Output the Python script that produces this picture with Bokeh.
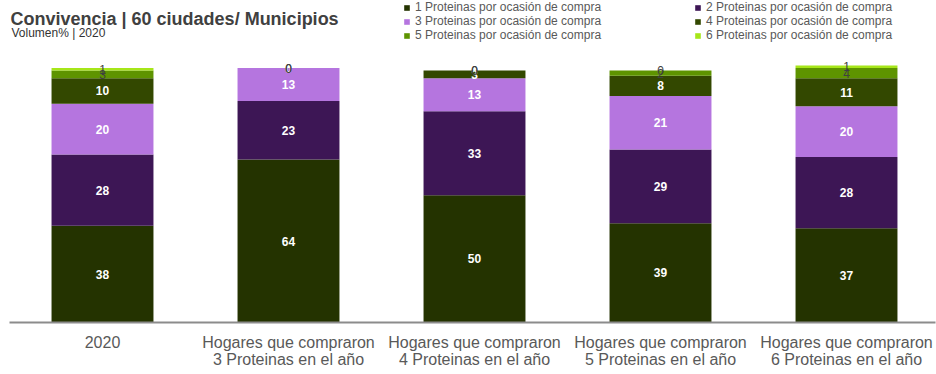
from bokeh.plotting import figure
from bokeh.models import (ColumnDataSource, Range1d, FixedTicker, Legend, LegendItem, Label)
from bokeh.core.properties import value
from bokeh.embed import file_html
from bokeh.resources import INLINE

# ---- data ----
categories = ["2020",
              "Hogares que compraron\n3 Proteinas en el año",
              "Hogares que compraron\n4 Proteinas en el año",
              "Hogares que compraron\n5 Proteinas en el año",
              "Hogares que compraron\n6 Proteinas en el año"]
series_names = ["1 Proteinas por ocasión de compra",
                "2 Proteinas por ocasión de compra",
                "3 Proteinas por ocasión de compra",
                "4 Proteinas por ocasión de compra",
                "5 Proteinas por ocasión de compra",
                "6 Proteinas por ocasión de compra"]
p1 = [38, 64, 50, 39, 37]
p2 = [28, 23, 33, 29, 28]
p3 = [20, 13, 13, 21, 20]
p4 = [10, 0, 3, 8, 11]
p5 = [3, 0, 0, 2, 4]
p6 = [1, 0, 0, 0, 1]
series_values = [p1, p2, p3, p4, p5, p6]
colors = ["#243300", "#3D1655", "#B575DF", "#334800", "#5E9400", "#A6E619"]
label_colors = ["#FFFFFF", "#FFFFFF", "#FFFFFF", "#FFFFFF", "#404040", "#404040"]
label_styles = ["bold", "bold", "bold", "bold", "normal", "normal"]

xs = list(range(len(categories)))
keys = ["s%d" % i for i in range(len(series_values))]
data = {"x": xs}
for k, v in zip(keys, series_values):
    data[k] = v
source = ColumnDataSource(data)

FONT = "Liberation Sans"
PX_PER_UNIT = 2.545
FRAME_H = 322
FRAME_W = 926
BAND = 186.0
LEFT = 9

p = figure(frame_width=FRAME_W, frame_height=FRAME_H, output_backend="svg", toolbar_location=None,
           x_range=Range1d(-0.5, -0.5 + FRAME_W / BAND), y_range=Range1d(0, FRAME_H / PX_PER_UNIT),
           min_border_left=LEFT, min_border_right=1, min_border_top=0, min_border_bottom=52)
p.outline_line_color = None
p.xgrid.visible = False
p.ygrid.visible = False
p.yaxis.visible = False
p.background_fill_color = "white"

renderers = p.vbar_stack(keys, x="x", width=0.548, color=colors, line_color=None,
                         source=source)

# data labels
cum = [0] * len(xs)
for i, vals in enumerate(series_values):
    mids = [c + v / 2 for c, v in zip(cum, vals)]
    cum = [c + v for c, v in zip(cum, vals)]
    lsrc = ColumnDataSource({"x": xs, "y": mids, "t": [str(v) for v in vals]})
    p.text(x="x", y="y", text="t", source=lsrc, text_align="center",
           text_baseline="middle", text_font=value(FONT), text_font_size="12px",
           text_font_style=label_styles[i], text_color=label_colors[i])

# x axis
xa = p.xaxis[0]
xa.ticker = FixedTicker(ticks=xs)
xa.major_label_overrides = {i: c for i, c in zip(xs, categories)}
xa.major_tick_line_color = None
xa.minor_tick_line_color = None
xa.major_tick_out = 0
xa.major_tick_in = 0
xa.axis_line_color = "#8C8C8C"
xa.axis_line_width = 2
xa.major_label_standoff = 11
xa.major_label_text_font = FONT
xa.major_label_text_font_size = "16px"
xa.major_label_text_color = "#595959"
xa.major_label_text_line_height = 1.0

# legend (location = bottom-left corner of the legend box, frame pixels)
LEG_ROW = 13
items = [LegendItem(label=n, renderers=[r]) for n, r in zip(series_names, renderers)]
legend = Legend(items=items, location=(394, FRAME_H - 3 - 3 * LEG_ROW), orientation="horizontal",
                ncols=2, glyph_width=7, glyph_height=7, label_standoff=5, label_width=279,
                label_height=LEG_ROW, spacing=0, padding=0, margin=0,
                label_text_font=FONT, label_text_font_size="12px",
                label_text_color="#595959", border_line_alpha=0,
                background_fill_alpha=0)
p.add_layout(legend, "center")

# title & subtitle (placed through the data scales)
def px_to_x(px):
    return (px - 102) / BAND

def py_to_y(py):
    return (322 - py) / PX_PER_UNIT

p.add_layout(Label(x=px_to_x(10), y=py_to_y(18), text="Convivencia | 60 ciudades/ Municipios",
                   text_font=FONT, text_font_size="18px", text_font_style="bold",
                   text_color="#404040", text_baseline="alphabetic"))
p.add_layout(Label(x=px_to_x(11), y=py_to_y(32.5), text="Volumen% | 2020",
                   text_font=FONT, text_font_size="12px",
                   text_color="#333333", text_baseline="alphabetic"))

open("out.html", "w").write(file_html(p, INLINE))
